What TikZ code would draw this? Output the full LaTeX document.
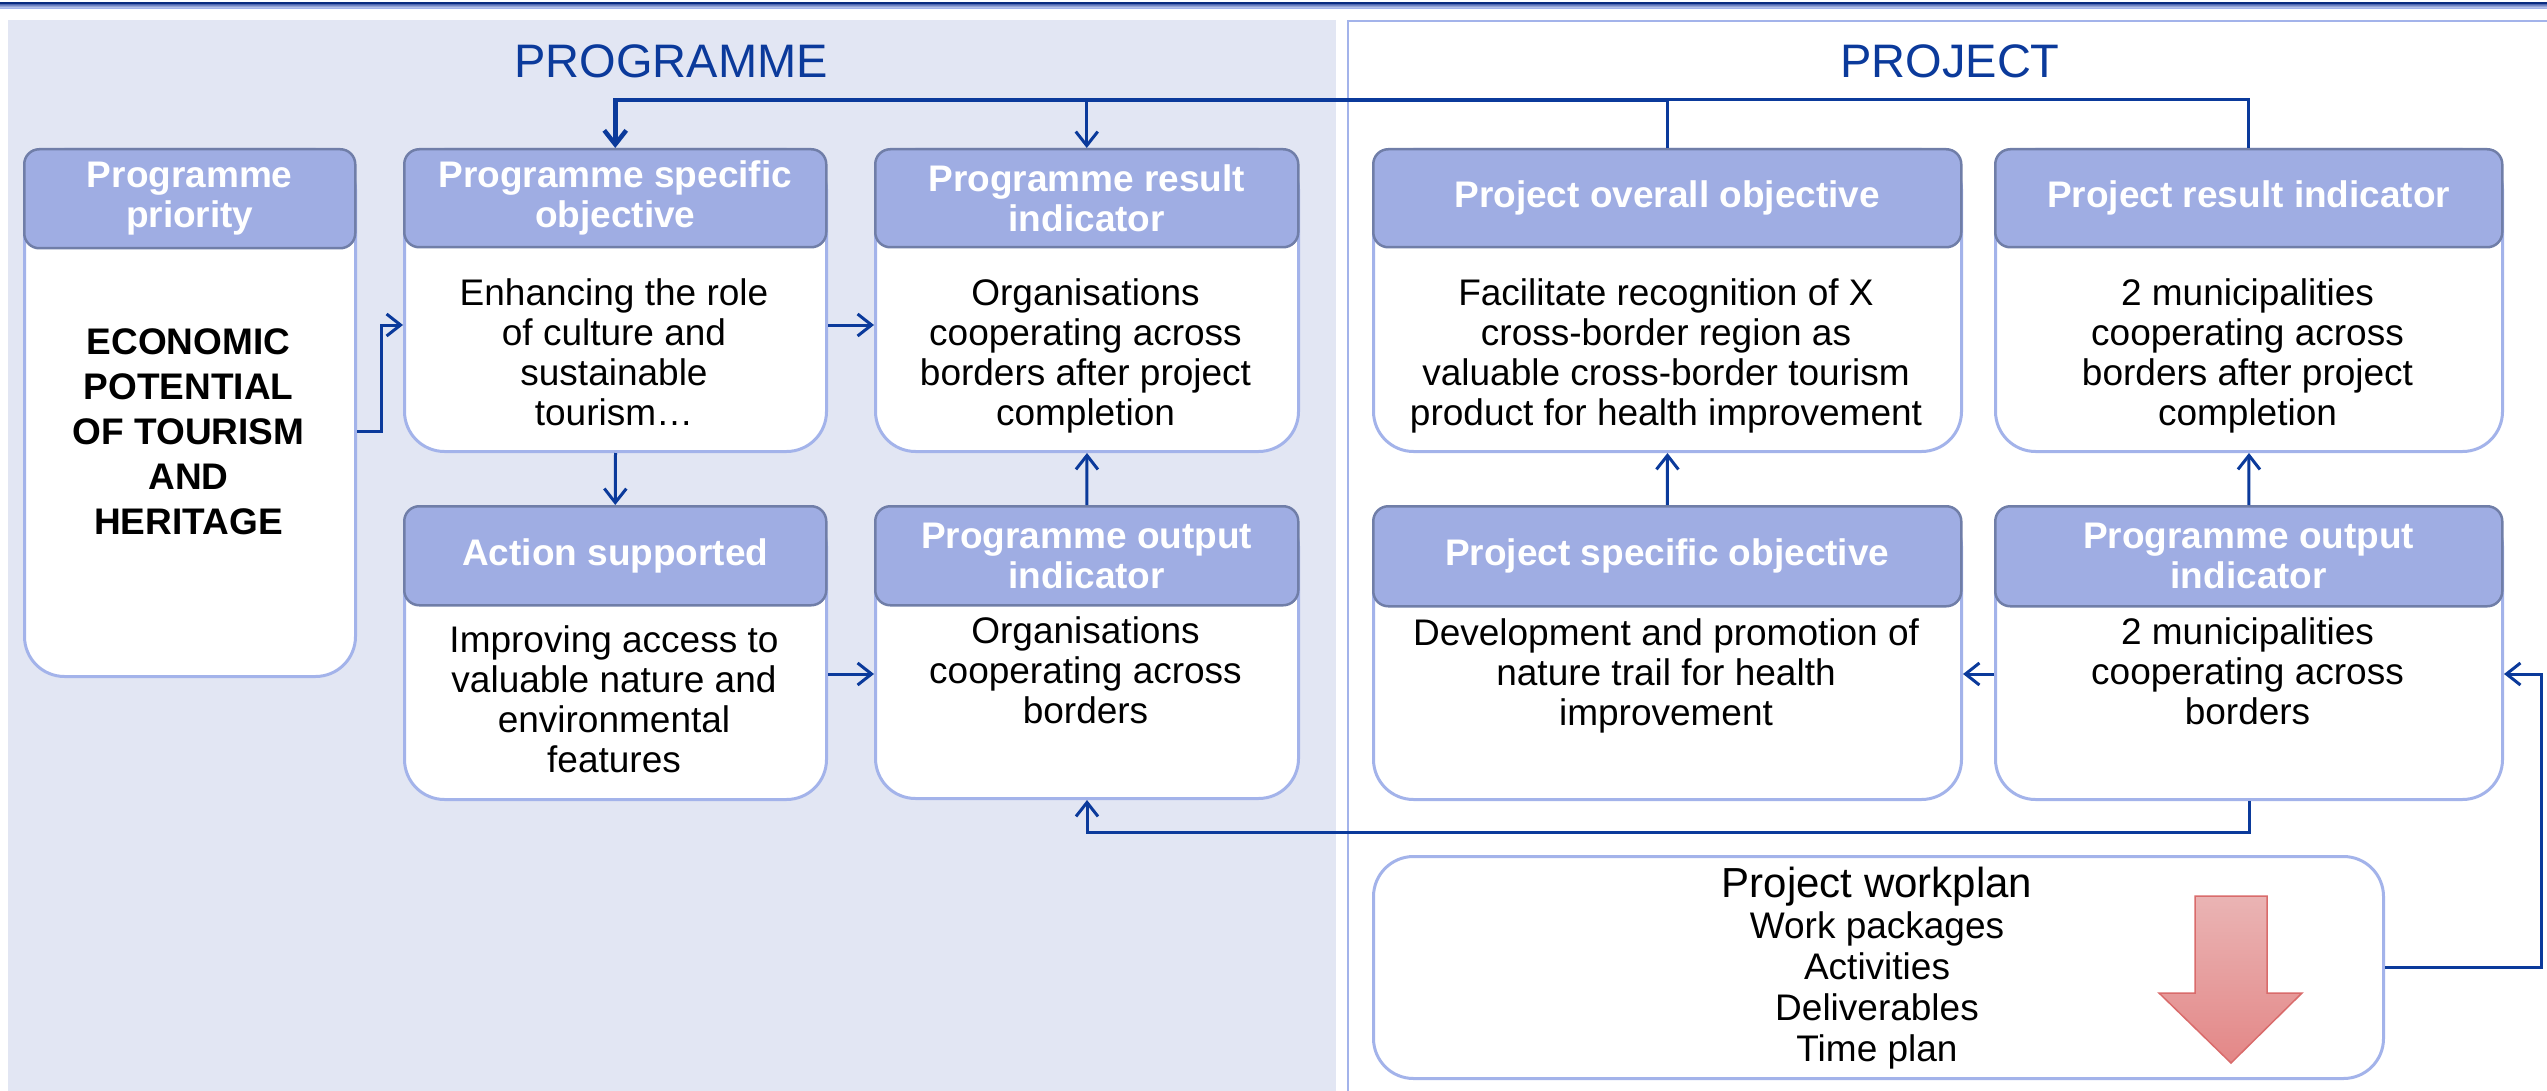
\documentclass[tikz,border=0pt]{standalone}
\usepackage{fontspec}
\setmainfont{Liberation Sans}
\usetikzlibrary{arrows.meta,calc}
\definecolor{headfill}{RGB}{159,173,227}
\definecolor{headline}{RGB}{112,126,168}
\definecolor{bodyline}{RGB}{163,179,234}
\definecolor{panelfill}{RGB}{226,230,243}
\definecolor{connblue}{RGB}{11,58,155}
\definecolor{navy}{RGB}{10,44,128}
\definecolor{arrowtop}{RGB}{234,180,180}
\definecolor{arrowbot}{RGB}{227,135,135}
\definecolor{arrowline}{RGB}{217,107,107}
\tikzset{
  bodybox/.style={draw=bodyline, line width=3pt, fill=white, rounded corners=40pt, inner sep=0pt, anchor=north west},
  headbox/.style={draw=headline, line width=2.5pt, fill=headfill, rounded corners=15pt, inner sep=0pt, anchor=north west, text=white, font=\fontsize{37}{40}\selectfont\bfseries, align=center},
  txt/.style={font=\fontsize{37}{40}\selectfont, align=center, inner sep=0pt, text=black},
  conn/.style={draw=connblue, line width=3pt},
  arr/.style={conn, -{Straight Barb[length=14pt,width=22pt]}},
}
\begin{document}
\begin{tikzpicture}[x=1pt,y=-1pt]
\useasboundingbox (0,0) rectangle (2547,1091);
% top rules
\fill[navy] (0,2.3) rectangle (2547,4.6);
\shade[top color=navy!40!headfill, bottom color=bodyline!60] (0,4.6) rectangle (2547,7.6);
\fill[bodyline] (0,8.2) rectangle (2547,9.4);
% panels
\fill[panelfill] (8,20) rectangle (1336,1095);
\draw[bodyline, line width=2pt] (1348,1095) -- (1348,21) -- (2560,21);
% titles
\node[font=\fontsize{47}{50}\selectfont, text=connblue, inner sep=0pt] (tProg) at (671,61) {PROGRAMME};
\node[font=\fontsize{47}{50}\selectfont, text=connblue, inner sep=0pt] (tProj) at (1950,61) {PROJECT};

% boxes
\node[bodybox, minimum width=331pt, minimum height=527pt] (bA) at (23,148) {};
\node[headbox, minimum width=331pt, minimum height=99pt] (hA) at (23,148) {Programme\\priority};
\node[txt, font=\fontsize{37}{45}\selectfont\bfseries] (tA) at (188.5,432) {ECONOMIC\\POTENTIAL\\OF TOURISM\\AND\\HERITAGE};

\node[bodybox, minimum width=422pt, minimum height=302pt] (bB) at (403,148) {};
\node[headbox, minimum width=422pt, minimum height=98pt] (hB) at (403,148) {Programme specific\\objective};
\node[txt] (tB) at (614,352) {Enhancing the role\\of culture and\\sustainable\\tourism…};

\node[bodybox, minimum width=423pt, minimum height=302pt] (bC) at (874,148) {};
\node[headbox, minimum width=423pt, minimum height=98pt] (hC) at (874,148) {Programme result\\indicator};
\node[txt] (tC) at (1085.5,355.5) {Organisations\\cooperating across\\borders after project\\completion};

\node[bodybox, minimum width=422pt, minimum height=293pt] (bD) at (403,505) {};
\node[headbox, minimum width=422pt, minimum height=99pt] (hD) at (403,505) {Action supported};
\node[txt] (tD) at (614,699.5) {Improving access to\\valuable nature and\\environmental\\features};

\node[bodybox, minimum width=423pt, minimum height=292pt] (bE) at (874,505) {};
\node[headbox, minimum width=423pt, minimum height=99pt] (hE) at (874,505) {Programme output\\indicator};
\node[txt] (tE) at (1085.5,670.5) {Organisations\\cooperating across\\borders};

\node[bodybox, minimum width=588pt, minimum height=302pt] (bF) at (1372,148) {};
\node[headbox, minimum width=588pt, minimum height=98pt] (hF) at (1372,148) {Project overall objective};
\node[txt] (tF) at (1666,355.5) {Facilitate recognition of X\\cross-border region as\\valuable cross-border tourism\\product for health improvement};

\node[bodybox, minimum width=507pt, minimum height=302pt] (bG) at (1994,148) {};
\node[headbox, minimum width=507pt, minimum height=98pt] (hG) at (1994,148) {Project result indicator};
\node[txt] (tG) at (2247.5,355.5) {2 municipalities\\cooperating across\\borders after project\\completion};

\node[bodybox, minimum width=588pt, minimum height=293pt] (bH) at (1372,505) {};
\node[headbox, minimum width=588pt, minimum height=100pt] (hH) at (1372,505) {Project specific objective};
\node[txt] (tH) at (1666,675.5) {Development and promotion of\\nature trail for health\\improvement};

\node[bodybox, minimum width=507pt, minimum height=293pt] (bI) at (1994,505) {};
\node[headbox, minimum width=507pt, minimum height=100pt] (hI) at (1994,505) {Programme output\\indicator};
\node[txt] (tI) at (2247.5,671.5) {2 municipalities\\cooperating across\\borders};

\node[bodybox, minimum width=1010pt, minimum height=222pt] (bW) at (1372,855) {};
\node[txt, font=\fontsize{37}{41}\selectfont] (tW) at (1877,968) {{\fontsize{42}{41}\selectfont Project workplan}\\Work packages\\Activities\\Deliverables\\Time plan};
\path[draw=arrowline, line width=1.5pt, top color=arrowtop, bottom color=arrowbot]
  (2195,896) -- (2267,896) -- (2267,993) -- (2302,993) -- (2231,1063) -- (2159,993) -- (2195,993) -- cycle;

% level coordinates
\coordinate (yT) at (0,100);
\coordinate (yA) at (0,431);
\coordinate (yB) at (0,325);
\coordinate (yD) at (0,674);
\coordinate (xR) at (2541,0);

% connectors
\draw[arr] (bA.east |- yA) -- ++(24,0) |- (bB.west |- yB);
\draw[arr] (bB.east |- yB) -- (bC.west |- yB);
\draw[arr] (bD.east |- yD) -- (bE.west |- yD);
\draw[arr] (bB.south) -- (hD.north);
\draw[arr] (hE.north) -- (bC.south);
\draw[arr] (hH.north) -- (bF.south);
\draw[arr] (hI.north) -- (bG.south);
\draw[arr] (bI.west |- yD) -- (bH.east |- yD);
\draw[arr] (bI.south) -- ++(0,31) -| (bE.south);
\draw[arr] (bW.east) -- (bW.east -| xR) |- (bI.east |- yD);
\draw[conn] (hG.north) |- (hF.north |- yT);
\draw[conn] (hF.north) -- (hF.north |- yT);
\draw[arr, line width=4.5pt] (hF.north |- yT) -| (hB.north);
\draw[arr] (hC.north |- yT) -- (hC.north);
\end{tikzpicture}
\end{document}
